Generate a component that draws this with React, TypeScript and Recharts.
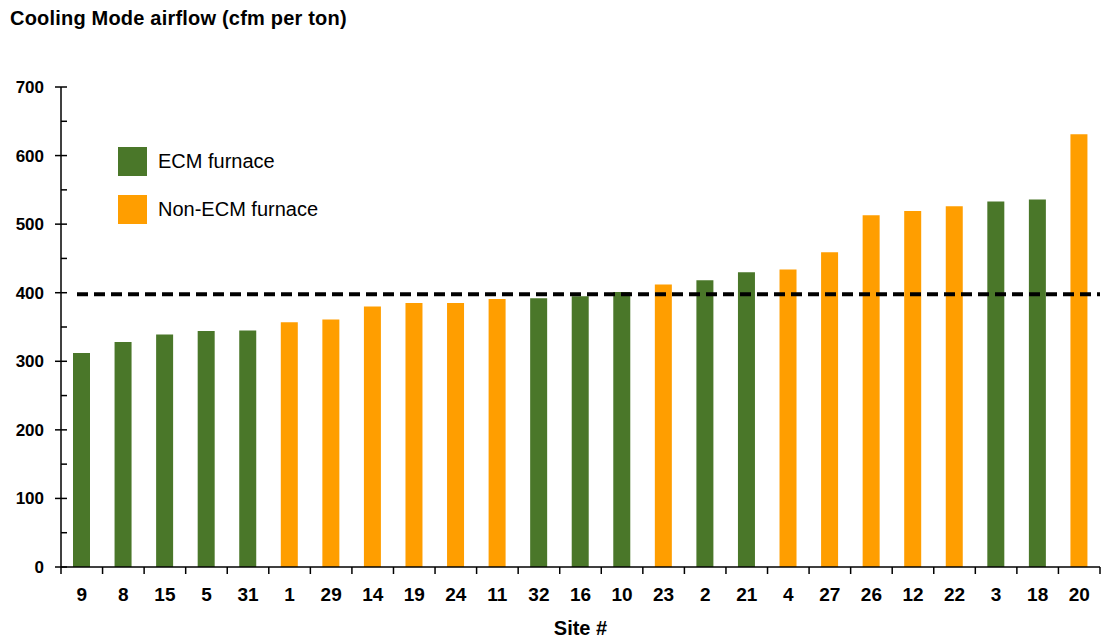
import React from 'react'
import { BarChart, Bar, XAxis, YAxis, Cell, ReferenceLine } from 'recharts'

const sites = ['9', '8', '15', '5', '31', '1', '29', '14', '19', '24', '11', '32', '16', '10', '23', '2', '21', '4', '27', '26', '12', '22', '3', '18', '20']
const airflow = [312, 328, 339, 344, 345, 357, 361, 380, 385, 385, 391, 392, 395, 401, 412, 418, 430, 434, 459, 513, 519, 526, 533, 536, 631]
const furnace = ['ECM', 'ECM', 'ECM', 'ECM', 'ECM', 'Non-ECM', 'Non-ECM', 'Non-ECM', 'Non-ECM', 'Non-ECM', 'Non-ECM', 'ECM', 'ECM', 'ECM', 'Non-ECM', 'ECM', 'ECM', 'Non-ECM', 'Non-ECM', 'Non-ECM', 'Non-ECM', 'Non-ECM', 'ECM', 'ECM', 'Non-ECM']
const legendItems = ['ECM furnace', 'Non-ECM furnace']
const yTicks = [0, 50, 100, 150, 200, 250, 300, 350, 400, 450, 500, 550, 600, 650, 700]
const target = 400

const COLORS: Record<string, string> = { ECM: '#4A7729', 'Non-ECM': '#FF9E00' }
const FONT = '"Liberation Sans", Arial, Helvetica, sans-serif'

const data = sites.map((site, i) => ({ site, value: airflow[i], type: furnace[i] }))

const W = 1102
const H = 640
const LEFT = 61
const RIGHT = 2
const BAND = (W - LEFT - RIGHT) / sites.length

const YTick = (props: any) => {
  const { y, payload } = props
  const v = payload.value
  const major = v % 100 === 0
  return (
    <g>
      <line x1={major ? LEFT - 6 : LEFT} x2={LEFT + 6} y1={y} y2={y} stroke="#000" strokeWidth={1.5} />
      {major && (
        <text x={LEFT - 17} y={y} dy={6} textAnchor="end" fontSize={17} fontWeight="bold" fill="#000" fontFamily={FONT}>
          {v}
        </text>
      )}
    </g>
  )
}

const XTick = (props: any) => {
  const { x, y, payload, index } = props
  const left = x - BAND / 2
  return (
    <g>
      <line x1={left} x2={left} y1={y - 8} y2={y - 1} stroke="#000" strokeWidth={1.5} />
      {index === sites.length - 1 && (
        <line x1={x + BAND / 2} x2={x + BAND / 2} y1={y - 8} y2={y - 1} stroke="#000" strokeWidth={1.5} />
      )}
      <text x={x} y={y + 26} textAnchor="middle" fontSize={19} fontWeight="bold" fill="#000" fontFamily={FONT}>
        {payload.value}
      </text>
    </g>
  )
}

// dashed 400 cfm/ton reference, starting just past the axis
const DashedTarget = (props: any) => {
  const { x1, x2, y1, y2 } = props
  return <line x1={x1 + 16} x2={x2} y1={y1 + 1.5} y2={y2 + 1.5} stroke="#000" strokeWidth={4} strokeDasharray="11 6" />
}

export default function App() {
  return (
    <div style={{ position: 'absolute', left: 0, top: 0, width: W, height: H, background: '#fff', fontFamily: FONT }}>
      <div style={{ position: 'absolute', left: 10, top: 7, fontSize: 20, fontWeight: 'bold', color: '#000', letterSpacing: 0.2 }}>
        Cooling Mode airflow (cfm per ton)
      </div>
      <BarChart width={W} height={H} data={data} margin={{ top: 87, right: RIGHT, bottom: 20, left: 0 }} barCategoryGap={0}>
        <XAxis
          dataKey="site"
          tick={<XTick />}
          tickLine={false}
          axisLine={{ stroke: '#000', strokeWidth: 1.5 }}
          interval={0}
          height={53}
          label={{ value: 'Site #', position: 'insideBottom', offset: -15, fontSize: 20, fontWeight: 'bold', fill: '#000', fontFamily: FONT }}
        />
        <YAxis
          domain={[0, 700]}
          ticks={yTicks}
          interval={0}
          width={LEFT}
          tick={<YTick />}
          tickLine={false}
          axisLine={{ stroke: '#000', strokeWidth: 1.5 }}
        />
        <Bar dataKey="value" barSize={17} isAnimationActive={false}>
          {data.map((d, i) => (
            <Cell key={i} fill={COLORS[d.type]} />
          ))}
        </Bar>
        <ReferenceLine y={target} shape={<DashedTarget />} />
      </BarChart>
      {legendItems.map((label, i) => (
        <div key={label} style={{ position: 'absolute', left: 118, top: 147 + i * 48, display: 'flex', alignItems: 'center' }}>
          <div style={{ width: 29, height: 29, background: COLORS[furnace.find((f) => label.startsWith(f + ' '))!] }} />
          <span style={{ marginLeft: 11, fontSize: 20, color: '#000' }}>{label}</span>
        </div>
      ))}
    </div>
  )
}
